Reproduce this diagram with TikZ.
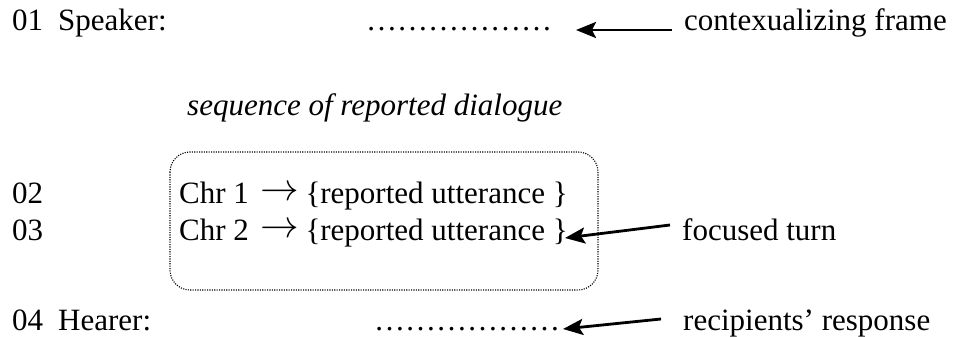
\documentclass[tikz,border=0pt]{standalone}
\usepackage{fontspec}
\setmainfont{Liberation Serif}
\usetikzlibrary{arrows.meta}
% thin text arrow between speaker tag and utterance
\newcommand{\chrarrow}{\hspace{12pt}\raisebox{3pt}{\scalebox{1.55}{$\rightarrow$}}\hspace{6pt}}
\begin{document}
\begin{tikzpicture}[x=1pt,y=-1pt,
  txt/.style={anchor=base west,inner sep=0pt,font=\fontsize{31}{37}\selectfont},
  arr/.style={line width=2.8pt,-{Stealth[length=20pt,width=16pt,inset=4pt]}},
  seqbox/.style={draw,line width=1.1pt,dash pattern=on 1.1pt off 1.3pt,rounded corners=20pt}]
\useasboundingbox (0,0) rectangle (956,337);

% line numbers and speaker labels
\node[txt] (n1) at (12,31) {01};
\node[txt] (spk) at (58,31) {Speaker:};
\node[txt] (n2) at (12,203) {02};
\node[txt] (n3) at (12,240) {03};
\node[txt] (n4) at (12,330) {04};
\node[txt] (hear) at (58,330) {Hearer:};

% placeholder lines (six ellipses each)
\node[txt] (dots1) at (366,31) {\char"2026\char"2026\char"2026\char"2026\char"2026\char"2026};
\node[txt] (dots4) at (374,330) {\char"2026\char"2026\char"2026\char"2026\char"2026\char"2026};

% reported dialogue
\node[txt,font=\fontsize{31}{37}\selectfont\itshape] (seq) at (187,115) {sequence of reported dialogue};
\node[txt] (chr1) at (179,203) {Chr 1\chrarrow\{reported utterance \}};
\node[txt] (chr2) at (179,240) {Chr 2\chrarrow\{reported utterance \}};
\draw[seqbox] (170,152) rectangle (598,290);

% annotations
\node[txt] (frame) at (684,31) {contexualizing frame};
\node[txt] (focus) at (682,240) {focused turn};
\node[txt] (resp) at (683,330) {recipients’ response};

\coordinate (t1) at (576,30);
\coordinate (t3) at (565,238);
\coordinate (t4) at (563,329);
\draw[arr] ([xshift=-12pt,yshift=1pt]frame.base west) -- (t1);
\draw[arr] ([xshift=-12pt,yshift=15pt]focus.base west) -- (t3);
\draw[arr] ([xshift=-22pt,yshift=11pt]resp.base west) -- (t4);
\end{tikzpicture}
\end{document}
